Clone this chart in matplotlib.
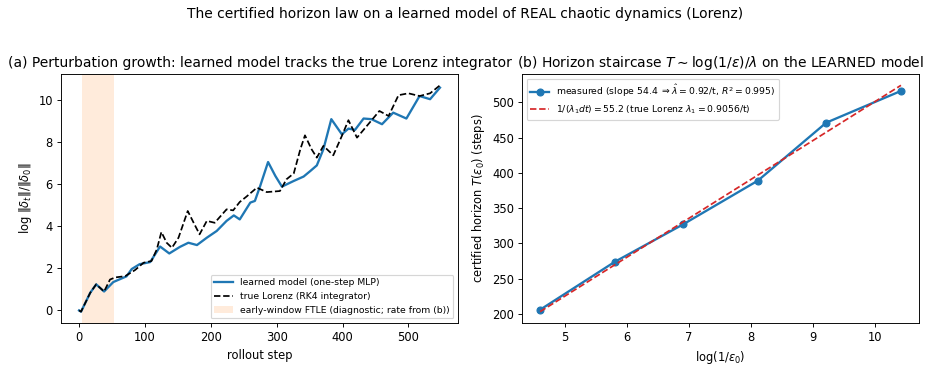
import numpy as np
import matplotlib
matplotlib.use("Agg")
import matplotlib.pyplot as plt

# (a) perturbation growth
learned_steps = [0, 3, 17, 26, 38, 52, 72, 80, 92, 108, 123, 137, 153, 166, 179,
                 194, 209, 224, 235, 244, 260, 267, 275, 287, 298, 308, 326, 341,
                 351, 361, 371, 383, 399, 409, 419, 432, 444, 460, 477, 497, 517,
                 533, 548]
learned_growth = [0.0, -0.06, 0.84, 1.24, 0.9, 1.35, 1.62, 1.97, 2.2, 2.3, 3.04,
                  2.71, 3.02, 3.22, 3.11, 3.46, 3.78, 4.26, 4.52, 4.33, 5.13, 5.21,
                  5.92, 7.06, 6.4, 5.89, 6.16, 6.37, 6.63, 6.9, 7.67, 9.1, 8.38,
                  8.65, 8.59, 9.13, 9.1, 8.86, 9.41, 9.13, 10.2, 10.05, 10.6]

true_steps = [0, 3, 17, 26, 38, 47, 55, 70, 85, 98, 110, 118, 125, 133, 141, 151,
              165, 174, 183, 194, 206, 224, 234, 244, 254, 270, 285, 305, 315, 326,
              336, 343, 353, 361, 371, 386, 399, 409, 422, 437, 456, 470, 485, 500,
              517, 533, 548]
true_growth = [0.0, -0.06, 0.84, 1.24, 0.9, 1.47, 1.57, 1.63, 1.92, 2.27, 2.35,
               2.9, 3.73, 3.22, 2.98, 3.46, 4.73, 4.17, 3.62, 4.26, 4.17, 4.81,
               4.76, 5.16, 5.41, 5.84, 5.63, 5.68, 6.24, 6.52, 7.67, 8.33, 7.67,
               7.27, 7.83, 7.38, 8.3, 9.05, 8.22, 8.78, 9.49, 9.25, 10.24, 10.33,
               10.2, 10.33, 10.71]

ftle_window = [4, 53]

# (b) horizon staircase
log_inv_eps = [4.605, 5.809, 6.908, 8.112, 9.210, 10.414]
horizon = [206, 274, 327, 389, 471, 516]
ref_slope = 55.2
ref_intercept = -50.9

dpi = 83
fig = plt.figure(figsize=(930 / dpi, 368 / dpi), dpi=dpi)
ax1 = fig.add_axes([0.0656, 0.1223, 0.4269, 0.6766])
ax2 = fig.add_axes([0.5613, 0.1223, 0.4269, 0.6766])

ax1.axvspan(ftle_window[0], ftle_window[1], color="C1", alpha=0.15, lw=0,
            label="early-window FTLE (diagnostic; rate from (b))")
ax1.plot(learned_steps, learned_growth, color="C0", lw=2,
         label="learned model (one-step MLP)")
ax1.plot(true_steps, true_growth, color="k", ls="--", lw=1.5,
         label="true Lorenz (RK4 integrator)")
ax1.set_xlabel("rollout step")
ax1.set_ylabel(r"log $\|\delta_t\|/\|\delta_0\|$")
ax1.set_title("(a) Perturbation growth: learned model tracks the true Lorenz integrator")
h, l = ax1.get_legend_handles_labels()
ax1.legend([h[1], h[2], h[0]], [l[1], l[2], l[0]], loc="lower right", fontsize=8)

x = np.array(log_inv_eps)
ax2.plot(x, horizon, "o-", color="C0", lw=2, ms=6,
         label=r"measured (slope 54.4 $\Rightarrow \hat{\lambda}=0.92$/t, $R^2=0.995$)")
ax2.plot(x, ref_intercept + ref_slope * x, "--", color="C3", lw=1.5,
         label=r"$1/(\lambda_1 dt)=55.2$ (true Lorenz $\lambda_1=0.9056$/t)")
ax2.set_xlabel(r"log$(1/\varepsilon_0)$")
ax2.set_ylabel(r"certified horizon $T(\varepsilon_0)$ (steps)")
ax2.set_title(r"(b) Horizon staircase $T\sim\log(1/\varepsilon)/\lambda$ on the LEARNED model")
ax2.legend(loc="upper left", fontsize=8)

fig.suptitle("The certified horizon law on a learned model of REAL chaotic dynamics (Lorenz)")
fig.savefig("out.png", dpi=dpi)
